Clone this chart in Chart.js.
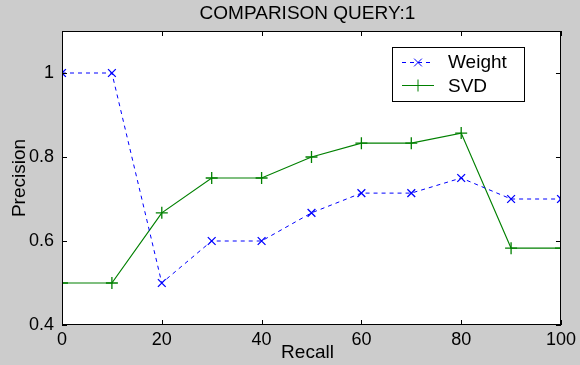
<!DOCTYPE html>
<html>
<head>
<meta charset="utf-8">
<script src="https://cdn.jsdelivr.net/npm/chart.js@4.4.1/dist/chart.umd.min.js"></script>
<style>
  html, body { margin: 0; padding: 0; background: #cccccc; }
  #wrap { width: 580px; height: 365px; }
</style>
</head>
<body>
<div id="wrap"><canvas id="c" width="580" height="365"></canvas></div>
<script>
// Recall levels and precision for both retrieval methods
const recall = [0, 10, 20, 30, 40, 50, 60, 70, 80, 90, 100];
const weightPrecision = [1, 1, 0.5, 0.6, 0.6, 0.667, 0.714, 0.714, 0.75, 0.7, 0.7];
const svdPrecision = [0.5, 0.5, 0.667, 0.75, 0.75, 0.8, 0.833, 0.833, 0.857, 0.583, 0.583];
const xTicks = [0, 20, 40, 60, 80, 100];
const yTicks = [0.4, 0.6, 0.8, 1];
const titleText = 'COMPARISON QUERY:1';
const xLabel = 'Recall';
const yLabel = 'Precision';
const seriesNames = ['Weight', 'SVD'];

const FONT = '"Liberation Sans", Arial, sans-serif';
const BLUE = '#0000ff';
const GREEN = '#008000';

const toPoints = (ys) => recall.map((x, i) => ({ x: x, y: ys[i] }));

const frame = {
  id: 'frame',
  beforeDraw(chart) {
    const { ctx, chartArea: a } = chart;
    ctx.save();
    ctx.fillStyle = '#cccccc';
    ctx.fillRect(0, 0, chart.width, chart.height);
    ctx.fillStyle = '#ffffff';
    ctx.fillRect(a.left, a.top, a.right - a.left, a.bottom - a.top);
    ctx.restore();
  },
  afterDraw(chart) {
    const { ctx, chartArea: a, scales } = chart;
    ctx.save();
    // axes box
    ctx.strokeStyle = '#000000';
    ctx.lineWidth = 1;
    ctx.strokeRect(Math.round(a.left) + 0.5, Math.round(a.top) + 0.5,
                   Math.round(a.right - a.left) - 1, Math.round(a.bottom - a.top) - 1);
    // inward tick marks on all four sides
    const tl = 5;
    ctx.beginPath();
    xTicks.forEach(v => {
      const px = Math.round(scales.x.getPixelForValue(v)) + 0.5;
      ctx.moveTo(px, a.bottom); ctx.lineTo(px, a.bottom - tl);
      ctx.moveTo(px, a.top); ctx.lineTo(px, a.top + tl);
    });
    yTicks.forEach(v => {
      const py = Math.round(scales.y.getPixelForValue(v)) + 0.5;
      ctx.moveTo(a.left, py); ctx.lineTo(a.left + tl, py);
      ctx.moveTo(a.right, py); ctx.lineTo(a.right - tl, py);
    });
    ctx.stroke();

    // title and axis labels
    const cx = (a.left + a.right) / 2 - 4;
    ctx.fillStyle = '#000000';
    ctx.font = '19px ' + FONT;
    ctx.textAlign = 'center';
    ctx.textBaseline = 'alphabetic';
    ctx.fillText(titleText, cx, 19);
    ctx.fillText(xLabel, cx, 358);
    ctx.save();
    ctx.translate(25, (a.top + a.bottom) / 2);
    ctx.rotate(-Math.PI / 2);
    ctx.fillText(yLabel, 0, 0);
    ctx.restore();

    // legend box
    const lx = 392, ly = 47, lw = 132, lh = 54;
    ctx.fillStyle = '#ffffff';
    ctx.fillRect(lx, ly, lw, lh);
    ctx.strokeStyle = '#000000';
    ctx.strokeRect(lx + 0.5, ly + 0.5, lw, lh);
    const rows = [62, 85];
    const baselines = [68, 92];
    chart.data.datasets.forEach((ds, i) => {
      const y = rows[i] + 0.5;
      ctx.strokeStyle = ds.borderColor;
      ctx.lineWidth = 1;
      ctx.setLineDash(ds.borderDash || []);
      ctx.beginPath();
      ctx.moveTo(402, y); ctx.lineTo(434, y);
      ctx.stroke();
      ctx.setLineDash([]);
      Chart.helpers.drawPoint(ctx, {
        pointStyle: ds.pointStyle, radius: ds.pointRadius, borderWidth: ds.pointBorderWidth
      }, 418, y);
      ctx.fillStyle = '#000000';
      ctx.font = '19px ' + FONT;
      ctx.textAlign = 'left';
      ctx.textBaseline = 'alphabetic';
      ctx.fillText(ds.label, 448, baselines[i]);
    });
    ctx.restore();
  }
};

new Chart(document.getElementById('c'), {
  type: 'line',
  data: {
    datasets: [
      {
        label: seriesNames[0],
        data: toPoints(weightPrecision),
        borderColor: BLUE,
        backgroundColor: BLUE,
        borderWidth: 1,
        borderDash: [4, 4],
        pointStyle: 'crossRot',
        pointRadius: 5.5,
        pointBorderWidth: 1.3,
        fill: false,
        tension: 0
      },
      {
        label: seriesNames[1],
        data: toPoints(svdPrecision),
        borderColor: GREEN,
        backgroundColor: GREEN,
        borderWidth: 1.2,
        pointStyle: 'cross',
        pointRadius: 6,
        pointBorderWidth: 1.3,
        fill: false,
        tension: 0
      }
    ]
  },
  options: {
    responsive: false,
    animation: false,
    devicePixelRatio: 1,
    layout: { padding: { top: 31, right: 12, left: 0, bottom: 0 } },
    plugins: {
      legend: { display: false },
      title: { display: false },
      tooltip: { enabled: false }
    },
    scales: {
      x: {
        type: 'linear',
        min: 0,
        max: 100,
        grid: { display: false, drawTicks: false },
        border: { display: false },
        afterBuildTicks: (s) => { s.ticks = xTicks.map(v => ({ value: v })); },
        afterFit: (s) => { s.height = 40; },
        ticks: {
          color: '#000000',
          font: { family: FONT, size: 18 },
          padding: 4,
          maxRotation: 0,
          callback: (v) => String(v)
        }
      },
      y: {
        type: 'linear',
        min: 0.4,
        max: 1.1,
        grid: { display: false, drawTicks: false },
        border: { display: false },
        afterBuildTicks: (s) => { s.ticks = yTicks.map(v => ({ value: v })); },
        afterFit: (s) => { s.width = 62; },
        ticks: {
          color: '#000000',
          font: { family: FONT, size: 18 },
          padding: 8,
          callback: (v) => String(Math.round(v * 10) / 10)
        }
      }
    }
  },
  plugins: [frame]
});
</script>
</body>
</html>
